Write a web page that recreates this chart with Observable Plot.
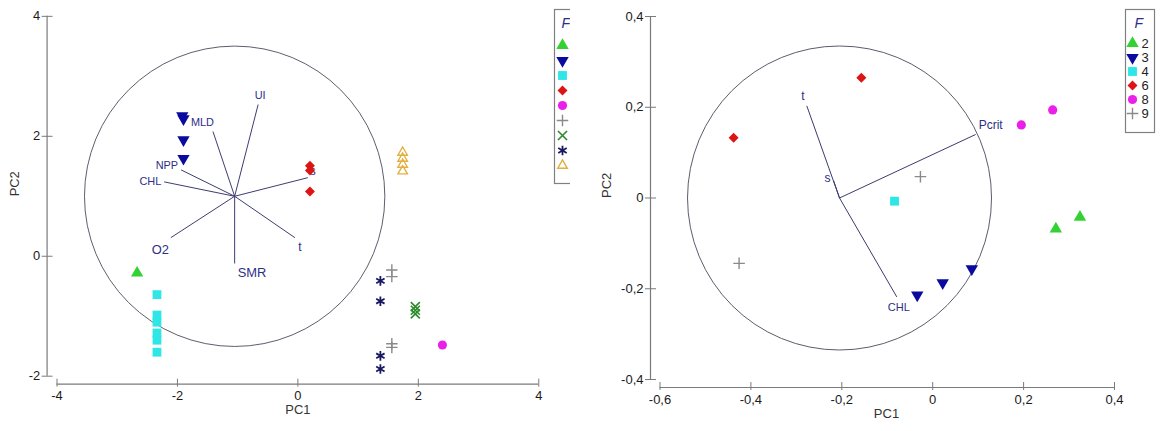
<!DOCTYPE html>
<html><head><meta charset="utf-8">
<script src="https://cdn.jsdelivr.net/npm/d3@7"></script>
<script src="https://cdn.jsdelivr.net/npm/@observablehq/plot@0.6"></script>
<style>
body{margin:0;background:#fff;}
#wrap{position:relative;width:1163px;height:431px;overflow:hidden;font-family:"Liberation Sans",Arial,sans-serif;background:#fff;}
.panel{position:absolute;top:0;height:431px;}
.abs{position:absolute;}
</style></head><body>
<div id="wrap">
  <div id="left" class="panel" style="left:0;width:570px;overflow:hidden"></div>
  <div id="right" class="panel" style="left:580px;width:583px;"></div>
</div>
<script>
// ---------- LEFT PANEL DATA ----------
const leftXTicks = [-4, -2, 0, 2, 4];
const leftYTicks = [-2, 0, 2, 4];
const leftGroup = ["2","3","3","3","3","4","4","4","4","4","4","6","6","6","8","9","9","9","9","10","10","10","11","11","11","11","12","12","12","12"];
const leftPC1 = [-2.67,-1.92,-1.90,-1.90,-1.90,-2.34,-2.34,-2.34,-2.34,-2.34,-2.34,0.2,0.2,0.2,2.40,1.56,1.56,1.56,1.56,1.95,1.95,1.95,1.37,1.37,1.37,1.37,1.74,1.74,1.74,1.74];
const leftPC2 = [-0.28,2.34,2.29,1.94,1.63,-0.64,-0.98,-1.10,-1.28,-1.40,-1.60,1.51,1.43,1.08,-1.48,-0.23,-0.34,-1.46,-1.52,-0.84,-0.90,-0.96,-0.41,-0.75,-1.66,-1.88,1.73,1.63,1.53,1.42];
const leftVarNames = ["UI","MLD","NPP","CHL","s","t","SMR","O2"];
const leftVarPC1 = [-0.66,-1.41,-1.94,-2.22,0.165,-0.05,-1.05,-2.11];
const leftVarPC2 = [2.53,2.08,1.44,1.24,1.31,0.31,-0.12,0.31];
const leftOrigin = [-1.05, 1.0];
const leftLegendGroups = ["2","3","4","6","8","9","10","11","12"];

// ---------- RIGHT PANEL DATA ----------
const rightXTicks = [-0.6, -0.4, -0.2, 0, 0.2, 0.4];
const rightYTicks = [-0.4, -0.2, 0, 0.2, 0.4];
const rightGroup = ["2","2","3","3","3","4","6","6","8","8","9","9"];
const rightPC1 = [0.271,0.324,-0.034,0.022,0.086,-0.084,-0.157,-0.438,0.195,0.264,-0.027,-0.426];
const rightPC2 = [-0.068,-0.042,-0.214,-0.187,-0.156,-0.007,0.265,0.133,0.161,0.194,0.047,-0.144];
const rightVarNames = ["t","s","Pcrit","CHL"];
const rightVarPC1 = [-0.277,-0.218,0.0945,-0.079];
const rightVarPC2 = [0.203,0.038,0.140,-0.218];
const rightOrigin = [-0.205, 0];
const rightLegendGroups = ["2","3","4","6","8","9"];

// ---------- STYLES ----------
const FONT = "'Liberation Sans', Arial, sans-serif";
const AXIS = "#7a7a7a";
const VEC = "#3b3b6e";
const VECTXT = "#2e2e86";
const groupStyle = {
  "2":  {symbol:"triangle", fill:"#33d233", stroke:"none", r:4.6, rotate:0},
  "3":  {symbol:"triangle", fill:"#0a0a9e", stroke:"none", r:4.6, rotate:180},
  "4":  {symbol:"square", fill:"#2ee6e6", stroke:"none", r:5, rotate:0},
  "6":  {symbol:"square", fill:"#dd1414", stroke:"none", r:4, rotate:45},
  "8":  {symbol:"circle", fill:"#ea1fea", stroke:"none", r:4.6, rotate:0},
  "9":  {symbol:"plus", fill:"none", stroke:"#8a8a8a", r:3.8, rotate:0, sw:1.4},
  "10": {symbol:"times", fill:"none", stroke:"#2a8a2a", r:4.2, rotate:0, sw:1.6},
  "11": {symbol:"asterisk", fill:"none", stroke:"#181860", r:4.6, rotate:0, sw:1.8},
  "12": {symbol:"triangle2", fill:"none", stroke:"#e2b040", r:4.6, rotate:0, sw:1.4}
};
const leftLabelStyle = {
  UI:{anchor:"middle",dx:2,dy:-9,size:11}, MLD:{anchor:"end",dx:1,dy:-9,size:11},
  NPP:{anchor:"end",dx:-3,dy:-4,size:11}, CHL:{anchor:"end",dx:-3,dy:0,size:11},
  s:{anchor:"start",dx:2,dy:-7,size:12}, t:{anchor:"middle",dx:5,dy:10,size:12},
  SMR:{anchor:"start",dx:3,dy:10,size:13}, O2:{anchor:"end",dx:-2,dy:12,size:13}
};
const rightLabelStyle = {
  t:{anchor:"middle",dx:-4,dy:-10,size:12}, s:{anchor:"end",dx:-3,dy:-3,size:12},
  Pcrit:{anchor:"start",dx:3,dy:-9,size:12}, CHL:{anchor:"middle",dx:2,dy:11,size:11}
};

const fmt = d => String(d).replace(".", ",");

function pointMarks(groups, xs, ys) {
  const rows = groups.map((g, i) => ({g, x: xs[i], y: ys[i]}));
  const keys = Array.from(new Set(groups));
  return keys.map(k => {
    const s = groupStyle[k];
    return Plot.dot(rows.filter(d => d.g === k), {
      x: "x", y: "y", symbol: s.symbol, r: s.r, fill: s.fill, stroke: s.stroke,
      strokeWidth: s.sw || 1, rotate: s.rotate
    });
  });
}

function vectorMarks(names, xs, ys, origin, labelStyle) {
  const rows = names.map((n, i) => ({n, x: xs[i], y: ys[i]}));
  const marks = [Plot.link(rows, {x1: () => origin[0], y1: () => origin[1], x2: "x", y2: "y", stroke: VEC, strokeWidth: 1})];
  for (const r of rows) {
    const st = labelStyle[r.n];
    marks.push(Plot.text([r], {x: "x", y: "y", text: "n", textAnchor: st.anchor, dx: st.dx, dy: st.dy,
      fontSize: st.size, fill: VECTXT, fontFamily: FONT}));
  }
  return marks;
}

function panel({width, xDomain, yDomain, xTicks, yTicks, ml, mr, insetL, groups, xs, ys, vnames, vxs, vys, origin, labelStyle, circleR, pc2dx, pc1dx}) {
  return Plot.plot({
    width, height: 431,
    marginLeft: ml, marginRight: mr, marginTop: 16, marginBottom: 44,
    style: {fontFamily: FONT, fontSize: "13px", background: "transparent", overflow: "visible"},
    x: {domain: xDomain, insetLeft: insetL},
    y: {domain: yDomain, insetBottom: 8},
    marks: [
      Plot.ruleY([yDomain[0]], {x1: xDomain[0], x2: xDomain[1], dy: 8, stroke: AXIS, strokeWidth: 1.2}),
      Plot.ruleX([xDomain[0]], {y1: yDomain[0], y2: yDomain[1], dx: -insetL, stroke: AXIS, strokeWidth: 1.2}),
      Plot.axisX(xTicks, {tickSize: 8, dy: -5, tickPadding: 4, tickFormat: fmt, stroke: AXIS, fill: "#1a1a1a", label: null, fontSize: 13}),
      Plot.axisY(yTicks, {tickSize: 11, dx: 6, tickPadding: 2, tickFormat: fmt, stroke: AXIS, fill: "#1a1a1a", label: null, fontSize: 13}),
      Plot.text(["PC1"], {frameAnchor: "bottom", dx: pc1dx, dy: 30, fontSize: 13, fill: "#333"}),
      Plot.text(["PC2"], {frameAnchor: "left", dx: pc2dx, dy: -4, rotate: -90, fontSize: 13, fill: "#333"}),
      Plot.dot([origin], {x: d => d[0], y: d => d[1], r: circleR, fill: "none", stroke: "#4a4a5a", strokeWidth: 0.9}),
      ...vectorMarks(vnames, vxs, vys, origin, labelStyle),
      ...pointMarks(groups, xs, ys)
    ]
  });
}

function legend({groups, width, height, top, bottom, symX, labelX, fX, fY, showLabels}) {
  const marks = [
    Plot.frame({stroke: "#808080", strokeWidth: 1.2}),
    Plot.text(["F"], {frameAnchor: "top-left", dx: fX, dy: fY, fontSize: 14, fontStyle: "italic", fill: "#2e2e86", fontFamily: FONT})
  ];
  for (const g of groups) {
    const s = groupStyle[g];
    marks.push(Plot.dot([g], {y: d => d, frameAnchor: "left", dx: symX, symbol: s.symbol, r: s.r, fill: s.fill, stroke: s.stroke, strokeWidth: s.sw || 1, rotate: s.rotate}));
  }
  if (showLabels) marks.push(Plot.text(groups, {y: d => d, text: d => d, frameAnchor: "left", dx: labelX, textAnchor: "start", fontSize: 13, fill: "#222", fontFamily: FONT}));
  return Plot.plot({
    width, height, margin: 0,
    style: {fontFamily: FONT, background: "#fff", overflow: "visible"},
    y: {type: "point", domain: groups, range: [top, bottom], axis: null},
    marks
  });
}

const leftPlot = panel({width: 575, xDomain: [-4, 4], yDomain: [-2, 4], xTicks: leftXTicks, yTicks: leftYTicks,
  ml: 47, mr: 32, insetL: 10, groups: leftGroup, xs: leftPC1, ys: leftPC2,
  vnames: leftVarNames, vxs: leftVarPC1, vys: leftVarPC2, origin: leftOrigin, labelStyle: leftLabelStyle,
  circleR: 151.5, pc2dx: -33, pc1dx: 5});
document.getElementById("left").appendChild(leftPlot);

const rightPlot = panel({width: 583, xDomain: [-0.6, 0.4], yDomain: [-0.4, 0.4], xTicks: rightXTicks, yTicks: rightYTicks,
  ml: 70, mr: 49, insetL: 9.5, groups: rightGroup, xs: rightPC1, ys: rightPC2,
  vnames: rightVarNames, vxs: rightVarPC1, vys: rightVarPC2, origin: rightOrigin, labelStyle: rightLabelStyle,
  circleR: 152, pc2dx: -44, pc1dx: 4});
document.getElementById("right").appendChild(rightPlot);

const ll = legend({groups: leftLegendGroups, width: 40, height: 174, top: 28, bottom: 164, symX: 8, labelX: 20, fX: 7, fY: 9, showLabels: false});
ll.classList.add("abs"); ll.style.left = "554px"; ll.style.top = "9px";
document.getElementById("left").appendChild(ll);

const rl = legend({groups: rightLegendGroups, width: 29, height: 123, top: 25, bottom: 113, symX: 7, labelX: 16, fX: 9, fY: 9, showLabels: true});
rl.classList.add("abs"); rl.style.left = "545px"; rl.style.top = "9px";
document.getElementById("right").appendChild(rl);
</script>
</body></html>
